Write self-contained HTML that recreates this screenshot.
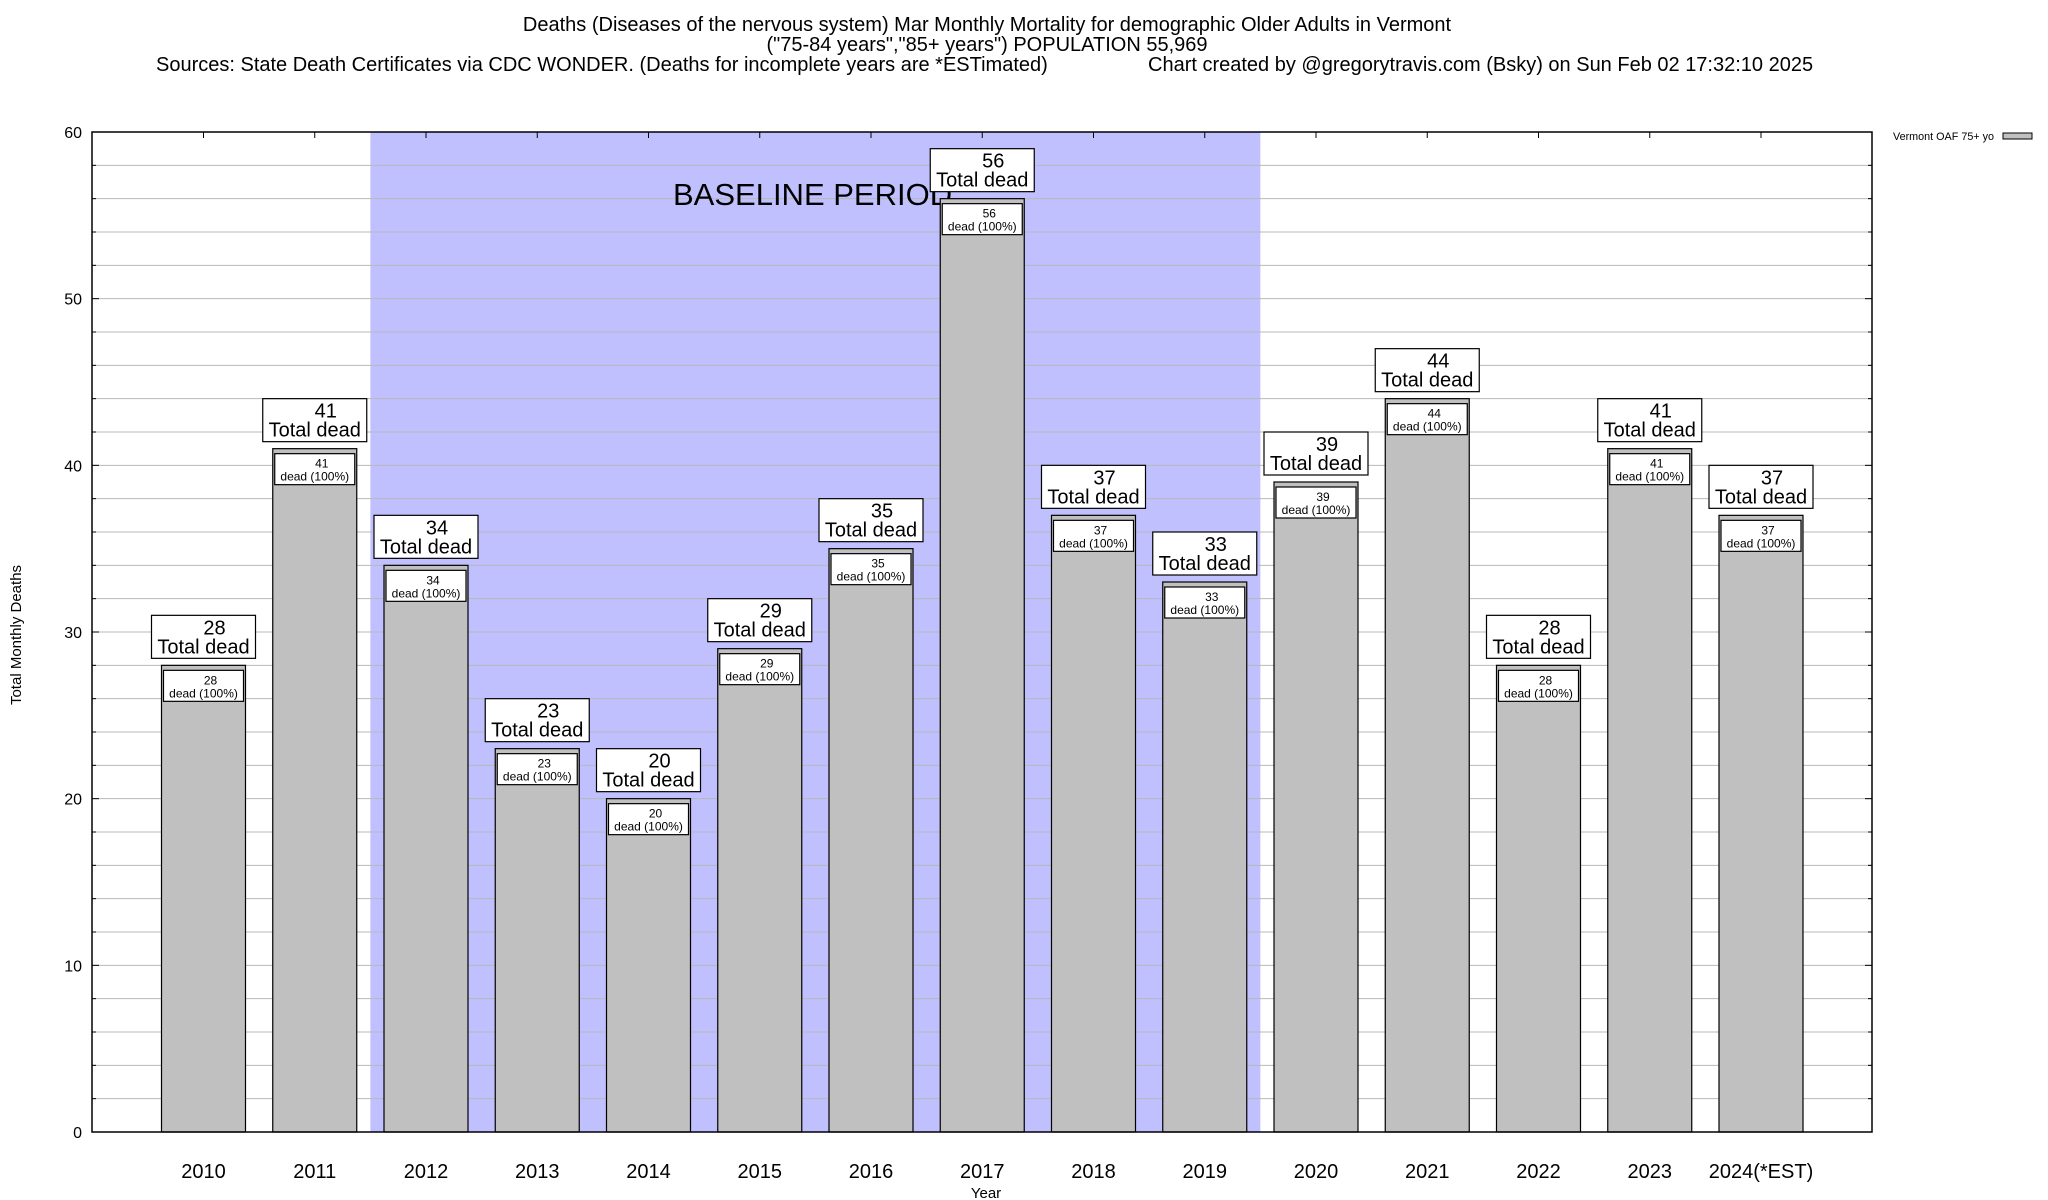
<!DOCTYPE html>
<html><head><meta charset="utf-8"><style>
html,body{margin:0;padding:0;background:#fff;}
svg{display:block;font-family:"Liberation Sans",sans-serif;}
</style></head><body>
<svg id="chart" width="2048" height="1200" xmlns="http://www.w3.org/2000/svg">
<g font-size="20" fill="#000">
<text x="987" y="31" text-anchor="middle">Deaths (Diseases of the nervous system) Mar Monthly Mortality for demographic Older Adults in Vermont</text>
<text x="987" y="51" text-anchor="middle">("75-84 years","85+ years") POPULATION 55,969</text>
<text x="156" y="71">Sources: State Death Certificates via CDC WONDER. (Deaths for incomplete years are *ESTimated)</text>
<text x="1148" y="71">Chart created by @gregorytravis.com (Bsky) on Sun Feb 02 17:32:10 2025</text>
</g>
<g id="plot"></g>
<text x="21" y="635" font-size="15" text-anchor="middle" transform="rotate(-90 21 635)">Total Monthly Deaths</text>
<text x="986" y="1198" font-size="15" text-anchor="middle">Year</text>
<g>
<text x="1893" y="140" font-size="11" textLength="101" lengthAdjust="spacingAndGlyphs">Vermont OAF 75+ yo</text>
<rect x="2003" y="133" width="29" height="6" fill="#c0c0c0" stroke="#000" stroke-width="1"/>
</g>
</svg>
<script>
const categories = ["2010","2011","2012","2013","2014","2015","2016","2017","2018","2019","2020","2021","2022","2023","2024(*EST)"];
const values = [28,41,34,23,20,29,35,56,37,33,39,44,28,41,37];
const yTicks = [0,10,20,30,40,50,60];
const baselineStart = 2; // index of first baseline year
const baselineEnd = 9;   // index of last baseline year

const NS = "http://www.w3.org/2000/svg";
const L = 92, R = 1872, T = 132, B = 1132;
const c0 = 203.5, step = 111.25, bw = 84;
const yMax = 60;
function y(v){ return B - (v / yMax) * (B - T); }
function x(i){ return c0 + i * step; }
const g = document.getElementById('plot');
function mk(tag, attrs, parent){
  const e = document.createElementNS(NS, tag);
  for (const k in attrs) e.setAttribute(k, attrs[k]);
  (parent || g).appendChild(e);
  return e;
}
let band = mk('rect', {x: x(baselineStart) - step/2, y: T, width: (baselineEnd - baselineStart + 1) * step, height: B - T, fill: '#c0c0ff'});


for (let v = 2; v < yMax; v += 2) {
  let gl = mk('line', {x1: L, x2: R, y1: y(v), y2: y(v), stroke: '#b8b8b8', 'stroke-width': 1});
  
  
  let tk = mk('line', {x1: L, x2: L + (v % 10 === 0 ? 7 : 4), y1: y(v), y2: y(v), stroke: '#000'});
  
  
  let tk2 = mk('line', {x1: R, x2: R - (v % 10 === 0 ? 7 : 4), y1: y(v), y2: y(v), stroke: '#000'});
  
  
}
let bt = mk('text', {x: 673, y: 205, 'font-size': 31});
bt.textContent = 'BASELINE PERIOD';


yTicks.forEach(v => {
  let t = mk('text', {x: 82, y: y(v) + 6, 'font-size': 16, 'text-anchor': 'end'});
  t.textContent = v;
  
  
});
categories.forEach((c, i) => {
  const v = values[i], cx = x(i), top = y(v);
  let tk = mk('line', {x1: cx, x2: cx, y1: T, y2: T + 6, stroke: '#000'});
  
  
  let b = mk('rect', {x: cx - bw/2, y: top, width: bw, height: B - top, fill: '#c0c0c0', stroke: '#000', 'stroke-width': 1.2});
  
  
  let ib = mk('rect', {x: cx - 40, y: top + 5, width: 80, height: 31, fill: '#fff', stroke: '#000', 'stroke-width': 1.2});
  
  
  let t1 = mk('text', {x: cx + 7, y: top + 19, 'font-size': 12, 'text-anchor': 'middle'});
  t1.textContent = v;
  
  
  let t2 = mk('text', {x: cx, y: top + 32, 'font-size': 12, 'text-anchor': 'middle'});
  t2.textContent = 'dead (100%)';
  
  
  let ob = mk('rect', {x: cx - 52, y: top - 50, width: 104, height: 43, fill: '#fff', stroke: '#000', 'stroke-width': 1.2});
  
  
  let t3 = mk('text', {x: cx + 11, y: top - 31, 'font-size': 20, 'text-anchor': 'middle'});
  t3.textContent = v;
  
  
  let t4 = mk('text', {x: cx, y: top - 12, 'font-size': 20, 'text-anchor': 'middle'});
  t4.textContent = 'Total dead';
  
  
  let xl = mk('text', {x: cx, y: 1178, 'font-size': 20, 'text-anchor': 'middle'});
  xl.textContent = c;
  
  
});
let frame = mk('rect', {x: L, y: T, width: R - L, height: B - T, fill: 'none', stroke: '#000', 'stroke-width': 1.5});


</script>
</body></html>
